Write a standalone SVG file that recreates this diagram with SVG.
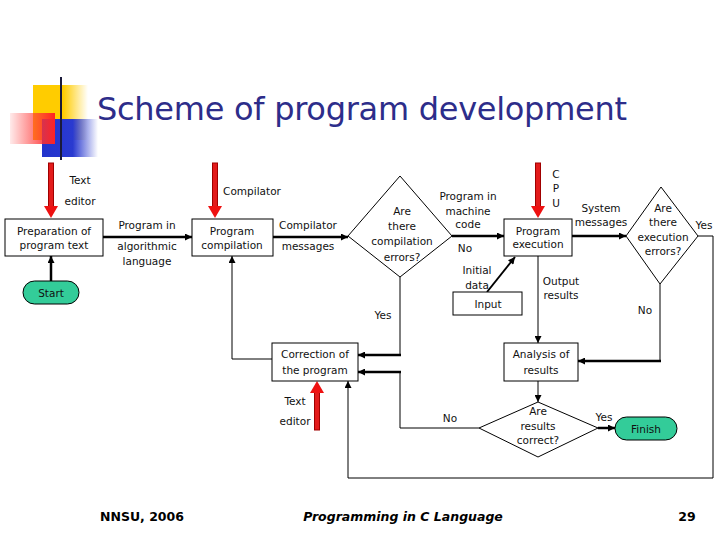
<svg xmlns="http://www.w3.org/2000/svg" width="720" height="540" viewBox="0 0 720 540">
<defs>
  <linearGradient id="gY" x1="0" y1="0" x2="1" y2="0">
    <stop offset="0" stop-color="#ffcc00"/>
    <stop offset="0.55" stop-color="#ffcc00"/>
    <stop offset="1" stop-color="#ffcc00" stop-opacity="0"/>
  </linearGradient>
  <linearGradient id="gB" x1="0" y1="0" x2="1" y2="0">
    <stop offset="0" stop-color="#2233cc"/>
    <stop offset="0.55" stop-color="#2a3ad0"/>
    <stop offset="1" stop-color="#2a3ad0" stop-opacity="0"/>
  </linearGradient>
  <linearGradient id="gR" x1="0" y1="0" x2="1" y2="0">
    <stop offset="0" stop-color="#ff3333" stop-opacity="0.1"/>
    <stop offset="0.7" stop-color="#ff3333" stop-opacity="0.8"/>
    <stop offset="1" stop-color="#ff2222"/>
  </linearGradient>
  <linearGradient id="gL" x1="0" y1="0" x2="1" y2="0">
    <stop offset="0" stop-color="#222222"/>
    <stop offset="0.6" stop-color="#555555"/>
    <stop offset="0.85" stop-color="#bbbbbb"/>
    <stop offset="1" stop-color="#ffffff"/>
  </linearGradient>
  <marker id="ah" viewBox="0 0 10 10" refX="10" refY="5" markerWidth="8" markerHeight="7" markerUnits="userSpaceOnUse" orient="auto">
    <path d="M0,0 L10,5 L0,10 z" fill="#000"/>
  </marker>
  <style>
    .t{font-family:"DejaVu Sans","Liberation Sans",sans-serif;font-size:10.5px;fill:#111;text-anchor:middle}
    .box{fill:#fff;stroke:#000;stroke-width:1}
    .pill{fill:#33cc99;stroke:#000;stroke-width:1}
    .thick{fill:none;stroke:#000;stroke-width:2.5}
    .thin{fill:none;stroke:#000;stroke-width:1}
    .rs{fill:#e31b1b;stroke:#a00000;stroke-width:1}
    .rh{fill:#ee1111}
    .foot{font-family:"DejaVu Sans","Liberation Sans",sans-serif;font-size:12.5px;font-weight:bold;fill:#000}
  </style>
</defs>
<rect width="720" height="540" fill="#fff"/>

<!-- logo and title -->
<g id="logo">
  <rect x="33" y="85" width="55" height="55" fill="url(#gY)"/>
  <rect x="42" y="119" width="56" height="38" fill="url(#gB)"/>
  <rect x="10" y="113" width="45" height="31" fill="url(#gR)"/>
  <line x1="61" y1="77" x2="61" y2="160" stroke="#1a1a3a" stroke-width="2"/>
  <line x1="35" y1="141" x2="690" y2="141" stroke="url(#gL)" stroke-width="3"/>
</g>
<text id="title" x="97" y="120" font-family="DejaVu Sans, Liberation Sans, sans-serif" font-size="32" fill="#2d2d8a" textLength="530">Scheme of program development</text>

<!-- red arrows -->
<g id="red-arrows">
  <rect class="rs" x="48.5" y="163" width="5" height="44"/>
  <path class="rh" d="M44,206 L58,206 L51,218 z"/>
  <rect class="rs" x="212.5" y="163" width="5" height="44"/>
  <path class="rh" d="M208,206 L222,206 L215,218 z"/>
  <rect class="rs" x="535.5" y="163" width="5" height="44"/>
  <path class="rh" d="M531,206 L545,206 L538,218 z"/>
  <rect class="rs" x="314.5" y="392" width="5" height="38"/>
  <path class="rh" d="M310,393 L324,393 L317,381 z"/>
</g>

<!-- connectors -->
<g id="connectors">
  <path class="thick" d="M103,237 H192" marker-end="url(#ah)"/>
  <path class="thick" d="M273,237 H348" marker-end="url(#ah)"/>
  <path class="thick" d="M452,236 H504" marker-end="url(#ah)"/>
  <path class="thick" d="M572,236 H626" marker-end="url(#ah)"/>
  <path class="thick" d="M51,281 V256" marker-end="url(#ah)"/>
  <path class="thick" d="M487,292 L515,257" marker-end="url(#ah)" style="stroke-width:2"/>
  <path class="thin" d="M538,256 V343" marker-end="url(#ah)"/>
  <path class="thin" d="M538,381 V402" marker-end="url(#ah)"/>
  <path class="thin" d="M660,284 V361"/>
  <path class="thick" d="M661,361 H578" marker-end="url(#ah)"/>
  <path class="thin" d="M698,236 H713 V478 H348 V381" marker-end="url(#ah)"/>
  <path class="thin" d="M400,277 V355"/>
  <path class="thick" d="M401,355 H358" marker-end="url(#ah)"/>
  <path class="thin" d="M479,428 H400 V372"/>
  <path class="thick" d="M401,372 H358" marker-end="url(#ah)"/>
  <path class="thick" d="M598,428 H615" marker-end="url(#ah)"/>
  <path class="thin" d="M272,359 H232 V256" marker-end="url(#ah)"/>
</g>

<!-- nodes -->
<g id="prep">
  <rect class="box" x="5" y="219" width="98" height="37"/>
  <text class="t" x="54" y="235">Preparation of</text>
  <text class="t" x="54" y="249">program text</text>
</g>
<g id="start">
  <rect class="pill" x="23" y="281" width="56" height="23" rx="11.5"/>
  <text class="t" x="51" y="297">Start</text>
</g>
<g id="compile">
  <rect class="box" x="192" y="219" width="81" height="37"/>
  <text class="t" x="232" y="235">Program</text>
  <text class="t" x="232" y="249">compilation</text>
</g>
<g id="compile-errors">
  <polygon class="box" points="400,176 452,236 400,277 348,236"/>
  <text class="t" x="402" y="215">Are</text>
  <text class="t" x="402" y="230">there</text>
  <text class="t" x="402" y="245">compilation</text>
  <text class="t" x="402" y="261">errors?</text>
</g>
<g id="execution">
  <rect class="box" x="504" y="219" width="68" height="37"/>
  <text class="t" x="538" y="235">Program</text>
  <text class="t" x="538" y="248">execution</text>
</g>
<g id="input">
  <rect class="box" x="453" y="292" width="69" height="23"/>
  <text class="t" x="488" y="308">Input</text>
</g>
<g id="exec-errors">
  <polygon class="box" points="661,187 698,236 660,284 626,236"/>
  <text class="t" x="663" y="212">Are</text>
  <text class="t" x="663" y="226">there</text>
  <text class="t" x="663" y="241">execution</text>
  <text class="t" x="663" y="255">errors?</text>
</g>
<g id="correction">
  <rect class="box" x="272" y="343" width="86" height="38"/>
  <text class="t" x="315" y="358">Correction of</text>
  <text class="t" x="315" y="374">the program</text>
</g>
<g id="analysis">
  <rect class="box" x="504" y="343" width="74" height="38"/>
  <text class="t" x="541" y="358">Analysis of</text>
  <text class="t" x="541" y="374">results</text>
</g>
<g id="results-correct">
  <polygon class="box" points="538,402 598,428 538,457 479,428"/>
  <text class="t" x="538" y="415">Are</text>
  <text class="t" x="538" y="430">results</text>
  <text class="t" x="538" y="444">correct?</text>
</g>
<g id="finish">
  <rect class="pill" x="615" y="417" width="62" height="23" rx="11.5"/>
  <text class="t" x="646" y="433">Finish</text>
</g>

<!-- labels -->
<g id="labels">
  <text class="t" x="80" y="184">Text</text>
  <text class="t" x="80" y="205">editor</text>
  <text class="t" x="252" y="195">Compilator</text>
  <text class="t" x="147" y="229">Program in</text>
  <text class="t" x="147" y="250">algorithmic</text>
  <text class="t" x="147" y="265">language</text>
  <text class="t" x="308" y="229">Compilator</text>
  <text class="t" x="308" y="250">messages</text>
  <text class="t" x="468" y="200">Program in</text>
  <text class="t" x="468" y="215">machine</text>
  <text class="t" x="468" y="228">code</text>
  <text class="t" x="465" y="252">No</text>
  <text class="t" x="556" y="178">C</text>
  <text class="t" x="556" y="192">P</text>
  <text class="t" x="556" y="207">U</text>
  <text class="t" x="477" y="274">Initial</text>
  <text class="t" x="477" y="289">data</text>
  <text class="t" x="561" y="285">Output</text>
  <text class="t" x="561" y="299">results</text>
  <text class="t" x="601" y="212">System</text>
  <text class="t" x="601" y="226">messages</text>
  <text class="t" x="704" y="229">Yes</text>
  <text class="t" x="645" y="314">No</text>
  <text class="t" x="383" y="319">Yes</text>
  <text class="t" x="295" y="405">Text</text>
  <text class="t" x="295" y="425">editor</text>
  <text class="t" x="450" y="422">No</text>
  <text class="t" x="604" y="421">Yes</text>
</g>

<!-- footer -->
<g id="footer">
  <text class="foot" x="100" y="521">NNSU, 2006</text>
  <text class="foot" x="403" y="521" text-anchor="middle" font-style="italic">Programming in C Language</text>
  <text class="foot" x="687" y="521" text-anchor="middle">29</text>
</g>
</svg>
